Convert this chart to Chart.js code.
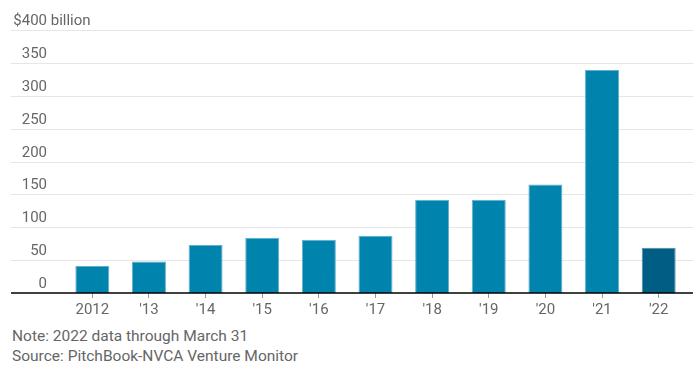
<!DOCTYPE html>
<html>
<head>
<meta charset="utf-8">
<script src="https://cdn.jsdelivr.net/npm/chart.js@4"></script>
<style>
  body { margin: 0; background: #fff; font-family: Roboto, 'Liberation Sans', sans-serif; }
  #wrap { position: relative; width: 699px; height: 322px; }
  .note { position: absolute; left: 12px; font-size: 15.5px; color: #666; white-space: nowrap; }
</style>
</head>
<body>
<div id="wrap"><canvas id="vc-chart"></canvas></div>
<div class="note" style="top:327px">Note: 2022 data through March 31</div>
<div class="note" style="top:347px">Source: PitchBook-NVCA Venture Monitor</div>
<script>
/* Venture capital deal value – bar chart */
var years      = ['2012', "'13", "'14", "'15", "'16", "'17", "'18", "'19", "'20", "'21", "'22"];
var dealValues = [41, 48, 73, 84, 81, 87, 142, 142, 165, 339, 69];
var yTicks     = [0, 50, 100, 150, 200, 250, 300, 350, 400];

var FONT = "15px Roboto, 'Liberation Sans', sans-serif";

/* ── gridlines + y labels sit above their line ─────────────── */
var gridPlugin = {
    id: 'wideGrid',
    beforeDatasetsDraw: function (chart) {
        var ctx = chart.ctx, y = chart.scales.y;
        ctx.save();
        ctx.font = FONT;
        ctx.fillStyle = '#666';
        ctx.textBaseline = 'alphabetic';
        yTicks.forEach(function (v) {
            var py = Math.round(y.getPixelForValue(v)) + 0.5;
            if (v > 0) {
                ctx.strokeStyle = '#e6e6e6';
                ctx.lineWidth = 1;
                ctx.beginPath();
                ctx.moveTo(11, py);
                ctx.lineTo(693, py);
                ctx.stroke();
            }
            var label = v === 400 ? '$400' : String(v);
            ctx.textAlign = 'right';
            ctx.fillText(label, 47, py - 6);
            if (v === 400) {
                ctx.textAlign = 'left';
                ctx.fillText(' billion', 47, py - 6);
            }
        });
        ctx.restore();
    },
    afterDatasetsDraw: function (chart) {
        var ctx = chart.ctx;
        var py = chart.scales.y.getPixelForValue(0);
        ctx.save();
        ctx.strokeStyle = '#000';
        ctx.lineWidth = 1.5;
        ctx.beginPath();
        ctx.moveTo(11, py);
        ctx.lineTo(693, py);
        ctx.stroke();
        ctx.restore();
    }
};

new Chart(document.getElementById('vc-chart'), {
    type: 'bar',
    data: {
        labels: years,
        datasets: [{
            data: dealValues,
            backgroundColor: years.map(function (y, i) { return i === years.length - 1 ? '#005e85' : '#0083ad'; }),
            borderColor:     years.map(function (y, i) { return i === years.length - 1 ? '#4f8fab' : '#62b0cc'; }),
            borderWidth: 1,
            categoryPercentage: 1,
            barPercentage: 0.6,
        }],
    },
    options: {
        responsive: true,
        maintainAspectRatio: false,
        animation: false,
        layout: { padding: { left: 64, right: 12, top: 30, bottom: 0 } },
        plugins: { legend: { display: false }, tooltip: { enabled: false } },
        scales: {
            x: {
                grid: { drawOnChartArea: false, drawTicks: true, tickLength: 5, color: '#999', offset: false },
                border: { display: false },
                ticks: { color: '#666', font: { family: "Roboto, 'Liberation Sans', sans-serif", size: 15 }, padding: 3, maxRotation: 0 },
            },
            y: {
                display: false,
                min: 0,
                max: 400,
            },
        },
    },
    plugins: [gridPlugin],
});
</script>
</body>
</html>
